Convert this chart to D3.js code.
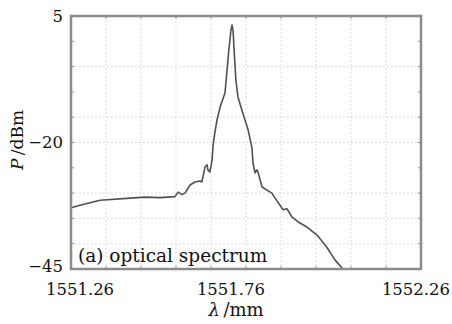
<!DOCTYPE html>
<html>
<head>
<meta charset="utf-8">
<script src="https://cdn.jsdelivr.net/npm/d3@7"></script>
<style>
  body { margin: 0; background: #fff; }
  svg { display: block; font-family: 'DejaVu Serif', serif; }
</style>
</head>
<body>
<svg id="chart" width="452" height="324"></svg>
<script>
// spectrum
const wavelength = [1551.260, 1551.286, 1551.343, 1551.429, 1551.471, 1551.514, 1551.557, 1551.566,
  1551.577, 1551.586, 1551.600, 1551.614, 1551.629, 1551.634, 1551.643, 1551.649, 1551.651, 1551.657,
  1551.663, 1551.666, 1551.669, 1551.671, 1551.677, 1551.686, 1551.700, 1551.711, 1551.717, 1551.720,
  1551.723, 1551.726, 1551.731, 1551.737, 1551.751, 1551.766, 1551.777, 1551.780, 1551.786, 1551.791,
  1551.794, 1551.806, 1551.820, 1551.834, 1551.843, 1551.866, 1551.877, 1551.891, 1551.909, 1551.934,
  1551.963, 1551.991, 1552.014, 1552.037, 1552.060];
const power = [-32.9, -32.4, -31.4, -31.0, -30.8, -30.9, -30.7, -29.8,
  -30.3, -30.0, -28.4, -27.8, -27.6, -27.8, -24.8, -24.4, -25.4, -25.8,
  -23.5, -20.5, -19.0, -18.1, -15.6, -13.0, -10.2, -1.7, 2.2, 3.2,
  2.2, -1.7, -7.6, -11.0, -14.2, -17.5, -21.0, -24.1, -26.0, -25.4,
  -25.8, -28.8, -29.4, -30.0, -31.0, -33.3, -33.1, -34.7, -35.7, -36.7,
  -38.3, -40.7, -43.2, -45.0, -47.5];

const xTickValues = [1551.26, 1551.76, 1552.26];
const xTickLabels = ['1551.26', '1551.76', '1552.26'];
const yTickValues = [5, -20, -45];
const yTickLabels = ['5', '\u221220', '\u221245'];
const xGridValues = d3.range(1, 10).map(i => 1551.26 + i * 0.1);
const yGridValues = [-5, -15, -20, -30, -35, -40];
const yMinorValues = d3.range(0, -45, -5);

const width = 452, height = 324;
const margin = { top: 16, right: 31, bottom: 55, left: 71 };
const w = width - margin.left - margin.right;
const h = height - margin.top - margin.bottom;

const svg = d3.select('#chart');
const g = svg.append('g').attr('transform', `translate(${margin.left},${margin.top})`);

const x = d3.scaleLinear().domain([1551.26, 1552.26]).range([0, w]);
const y = d3.scaleLinear().domain([-45, 5]).range([h, 0]);

g.append('defs').append('clipPath').attr('id', 'clip')
	.append('rect').attr('width', w).attr('height', h);

// dotted grid
g.append('g').selectAll('line')
	.data(xGridValues)
	.enter().append('line')
	.attr('x1', d => x(d)).attr('x2', d => x(d))
	.attr('y1', 0).attr('y2', h)
	.attr('stroke', '#c8c8c8').attr('stroke-width', 0.8)
	.attr('stroke-dasharray', '1.5,2.5');

g.append('g').selectAll('line')
	.data(yGridValues)
	.enter().append('line')
	.attr('x1', 0).attr('x2', w)
	.attr('y1', d => y(d)).attr('y2', d => y(d))
	.attr('stroke', '#c8c8c8').attr('stroke-width', 0.8)
	.attr('stroke-dasharray', '1.5,2.5');

// inward ticks on every side
const tickLen = 3;
const tickColor = '#8c8c8c';
[0, w].forEach(x0 => {
	g.append('g').selectAll('line')
		.data(yMinorValues)
		.enter().append('line')
		.attr('x1', x0).attr('x2', x0 === 0 ? tickLen : w - tickLen)
		.attr('y1', d => y(d)).attr('y2', d => y(d))
		.attr('stroke', tickColor).attr('stroke-width', 1);
});
[0, h].forEach(y0 => {
	g.append('g').selectAll('line')
		.data(xGridValues)
		.enter().append('line')
		.attr('y1', y0).attr('y2', y0 === 0 ? tickLen : h - tickLen)
		.attr('x1', d => x(d)).attr('x2', d => x(d))
		.attr('stroke', tickColor).attr('stroke-width', 1);
});

const line = d3.line()
	.x(i => x(wavelength[i]))
	.y(i => y(power[i]));

g.append('path')
	.datum(d3.range(wavelength.length))
	.attr('clip-path', 'url(#clip)')
	.attr('d', line)
	.attr('fill', 'none')
	.attr('stroke', '#505050')
	.attr('stroke-width', 1.6)
	.attr('stroke-linejoin', 'round');

// frame
g.append('rect')
	.attr('width', w).attr('height', h)
	.attr('fill', 'none')
	.attr('stroke', '#8c8c8c')
	.attr('stroke-width', 2.5);

// tick labels (placed the way the figure has them)
const xLabelShift = [9, -15, -5];
g.append('g').selectAll('text')
	.data(xTickValues)
	.enter().append('text')
	.attr('x', (d, i) => x(d) + xLabelShift[i])
	.attr('y', h + 26)
	.attr('text-anchor', 'middle')
	.attr('font-size', '16.5px')
	.attr('fill', '#111')
	.text((d, i) => xTickLabels[i]);

g.append('g').selectAll('text')
	.data(yTickValues)
	.enter().append('text')
	.attr('x', -8)
	.attr('y', d => y(d))
	.attr('dy', (d, i) => i === 2 ? '0.2em' : '0.35em')
	.attr('text-anchor', 'end')
	.attr('font-size', '16.5px')
	.attr('fill', '#111')
	.text((d, i) => yTickLabels[i]);

// axis titles
const xt = svg.append('text')
	.attr('x', 236).attr('y', 316)
	.attr('text-anchor', 'middle')
	.attr('font-size', '18px')
	.attr('fill', '#111');
xt.append('tspan').attr('font-style', 'italic').text('\u03bb');
xt.append('tspan').text('\u2009/mm');

const yt = svg.append('text')
	.attr('transform', 'translate(23,140) rotate(-90)')
	.attr('text-anchor', 'middle')
	.attr('font-size', '17px')
	.attr('fill', '#111');
yt.append('tspan').attr('font-style', 'italic').text('P');
yt.append('tspan').text('\u2009/dBm');

g.append('text')
	.attr('x', 7).attr('y', h - 7)
	.attr('font-size', '18.5px')
	.attr('fill', '#111')
	.text('(a) optical spectrum');
</script>
</body>
</html>
